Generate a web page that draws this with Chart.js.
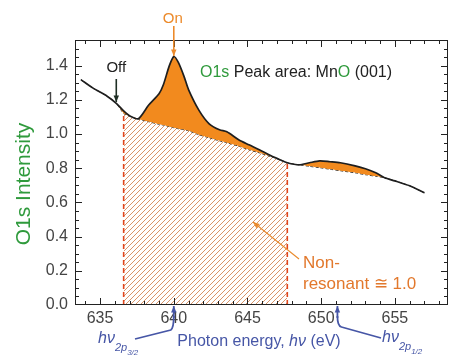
<!DOCTYPE html>
<html>
<head>
<meta charset="utf-8">
<script src="https://cdn.jsdelivr.net/npm/chart.js@4.4.1/dist/chart.umd.min.js"></script>
<style>
  html, body { margin: 0; padding: 0; background: #fff; }
  canvas { display: block; }
</style>
</head>
<body>
<canvas id="c" width="456" height="356"></canvas>
<script>
// photon energy (eV) sampled along the curve
const energy = [633.7, 634.5, 635.5, 636.1, 636.6, 637.0, 637.6, 638.3, 639.0, 639.3, 639.7, 640.0, 640.3, 640.7,
  641.0, 641.7, 642.4, 643.1, 643.6, 644.4, 645.1, 645.8, 646.6, 647.2, 647.7, 648.5, 649.2, 649.9,
  650.6, 651.3, 652.3, 653.0, 653.7, 654.3, 655.0, 656.0, 657.0];
// O1s peak area (total)
const total = [1.318, 1.27, 1.22, 1.18, 1.135, 1.107, 1.09, 1.17, 1.236, 1.29, 1.40, 1.453, 1.42, 1.336,
  1.26, 1.14, 1.06, 1.025, 1.013, 0.967, 0.937, 0.908, 0.873, 0.85, 0.832, 0.82, 0.832, 0.843,
  0.838, 0.832, 0.814, 0.797, 0.773, 0.744, 0.726, 0.697, 0.656];
// non-resonant background under the peak
const nonResonant = [1.318, 1.27, 1.22, 1.18, 1.12, 1.105, 1.088, 1.072, 1.057, 1.052, 1.043, 1.037, 1.031, 1.025,
  1.019, 0.996, 0.978, 0.96, 0.949, 0.929, 0.908, 0.89, 0.867, 0.85, 0.832, 0.82, 0.811, 0.803,
  0.794, 0.785, 0.773, 0.762, 0.753, 0.744, 0.726, 0.697, 0.656];
const edgeLow = 636.6, edgeHigh = 647.7;   // hatched (non-resonant) window
const xTicks = [635, 640, 645, 650, 655];
const yTicks = [0, 0.2, 0.4, 0.6, 0.8, 1.0, 1.2, 1.4];

const FONT = "'Liberation Sans', Arial, Helvetica, sans-serif";
const ORANGE = '#f28a1e';
const BLUE = '#4656a6';
const GREEN = '#2f9a3c';

const canvas = document.getElementById('c');
const ctx0 = canvas.getContext('2d');

function hatchPattern() {
    const c = document.createElement('canvas');
    c.width = 5; c.height = 5;
    const g = c.getContext('2d');
    g.fillStyle = '#fff'; g.fillRect(0, 0, 5, 5);
    g.strokeStyle = '#d99468'; g.lineWidth = 1;
    [[0, 5, 5, 0], [-1, 1, 1, -1], [4, 6, 6, 4]].forEach(s => {
        g.beginPath(); g.moveTo(s[0], s[1]); g.lineTo(s[2], s[3]); g.stroke();
    });
    return ctx0.createPattern(c, 'repeat');
}

const pts = arr => energy.map((e, i) => ({ x: e, y: arr[i] }));
const hatchPts = energy.map((e, i) => ({ x: e, y: nonResonant[i] })).filter(p => p.x >= edgeLow && p.x <= edgeHigh);
const yAt = e => nonResonant[energy.indexOf(e)];

function arrow(ctx, x1, y1, x2, y2, color, w, head) {
    ctx.strokeStyle = color; ctx.fillStyle = color; ctx.lineWidth = w;
    ctx.beginPath(); ctx.moveTo(x1, y1); ctx.lineTo(x2, y2); ctx.stroke();
    const a = Math.atan2(y2 - y1, x2 - x1);
    ctx.beginPath();
    ctx.moveTo(x2, y2);
    ctx.lineTo(x2 - head * Math.cos(a - 0.4), y2 - head * Math.sin(a - 0.4));
    ctx.lineTo(x2 - head * Math.cos(a + 0.4), y2 - head * Math.sin(a + 0.4));
    ctx.closePath(); ctx.fill();
}

function pieces(ctx, x, y, parts) {
    parts.forEach(p => {
        ctx.font = p.font; ctx.fillStyle = p.color;
        ctx.fillText(p.t, x, y + (p.dy || 0));
        x += ctx.measureText(p.t).width;
    });
}

const annotate = {
    id: 'annotate',
    afterDraw(chart) {
        const { ctx, chartArea: a, scales: { x, y } } = chart;
        ctx.save();
        // frame + inward ticks
        ctx.strokeStyle = '#222'; ctx.lineWidth = 1;
        ctx.strokeRect(a.left + 0.5, a.top + 0.5, a.right - a.left - 1, a.bottom - a.top - 1);
        ctx.beginPath();
        for (let v = 634; v <= 658; v++) {
            const px = Math.round(x.getPixelForValue(v)) + 0.5;
            const len = v % 5 === 0 ? 7 : 4;
            ctx.moveTo(px, a.bottom); ctx.lineTo(px, a.bottom - len);
            ctx.moveTo(px, a.top); ctx.lineTo(px, a.top + len);
        }
        for (let i = 1; i <= 30; i++) {
            const py = Math.round(y.getPixelForValue(i * 0.05)) + 0.5;
            const len = i % 4 === 0 ? 7 : 4;
            ctx.moveTo(a.left, py); ctx.lineTo(a.left + len, py);
            ctx.moveTo(a.right, py); ctx.lineTo(a.right - len, py);
        }
        ctx.stroke();

        ctx.textBaseline = 'alphabetic';
        // On / Off
        const xOn = x.getPixelForValue(640.0), xOff = x.getPixelForValue(636.1);
        ctx.font = '15px ' + FONT; ctx.fillStyle = '#ec8a2a'; ctx.textAlign = 'center';
        ctx.fillText('On', xOn - 1, 23);
        arrow(ctx, xOn, 26, xOn, 56, '#ec8a2a', 1.6, 7);
        ctx.fillStyle = '#222';
        ctx.fillText('Off', xOff, 72);
        arrow(ctx, xOff, 79, xOff, 102, '#1e2e24', 1.6, 7);

        // header
        ctx.textAlign = 'left';
        const f16 = '16px ' + FONT;
        pieces(ctx, 200, 77, [
            { t: 'O1', font: f16, color: GREEN }, { t: 's', font: f16, color: GREEN },
            { t: ' Peak area: Mn', font: f16, color: '#222' },
            { t: 'O', font: f16, color: GREEN }, { t: ' (001)', font: f16, color: '#222' }
        ]);

        // y title
        ctx.save();
        ctx.translate(30, 184); ctx.rotate(-Math.PI / 2);
        ctx.textAlign = 'center'; ctx.font = '21px ' + FONT; ctx.fillStyle = GREEN;
        ctx.fillText('O1s Intensity', 0, 0);
        ctx.restore();

        // x title
        const fi = 'italic 16px ' + FONT;
        ctx.font = f16;
        const w1 = ctx.measureText('Photon energy, ').width, w3 = ctx.measureText(' (eV)').width;
        ctx.font = fi; const w2 = ctx.measureText('hν').width;
        pieces(ctx, 259 - (w1 + w2 + w3) / 2, 346, [
            { t: 'Photon energy, ', font: f16, color: BLUE },
            { t: 'hν', font: fi, color: BLUE }, { t: ' (eV)', font: f16, color: BLUE }
        ]);

        // hν 2p3/2 and 2p1/2 markers
        const x32 = x.getPixelForValue(640.0), x12 = x.getPixelForValue(651.1);
        ctx.strokeStyle = BLUE; ctx.lineWidth = 1.8;
        ctx.beginPath(); ctx.moveTo(135, 339); ctx.lineTo(x32 - 3, 330); ctx.quadraticCurveTo(x32, 328, x32, 316); ctx.stroke();
        arrow(ctx, x32, 318, x32, a.bottom + 1, BLUE, 1.8, 7);
        ctx.beginPath(); ctx.moveTo(381, 338); ctx.lineTo(x12 + 4, 327); ctx.quadraticCurveTo(x12, 326, x12, 316); ctx.stroke();
        arrow(ctx, x12, 318, x12, a.bottom + 1, BLUE, 1.8, 7);
        const fs1 = 'italic 11px ' + FONT, fs2 = 'italic 8px ' + FONT;
        pieces(ctx, 98, 343, [
            { t: 'hν', font: fi, color: BLUE }, { t: '2p', font: fs1, color: BLUE, dy: 8 },
            { t: '3/2', font: fs2, color: BLUE, dy: 12 }
        ]);
        pieces(ctx, 382, 342, [
            { t: 'hν', font: fi, color: BLUE }, { t: '2p', font: fs1, color: BLUE, dy: 8 },
            { t: '1/2', font: fs2, color: BLUE, dy: 12 }
        ]);

        // non-resonant label
        ctx.font = '17px ' + FONT; ctx.fillStyle = '#e2782c';
        ctx.fillText('Non-', 303, 268);
        ctx.fillText('resonant ≅ 1.0', 303, 289);
        arrow(ctx, 299, 259, 253, 222, '#e98a2c', 1.1, 7);
        ctx.restore();
    }
};

new Chart(canvas, {
    type: 'line',
    data: {
        datasets: [
            {
                data: pts(total), borderColor: '#1e1e1e', borderWidth: 1.7, pointRadius: 0, tension: 0.25,
                fill: { target: 1, above: ORANGE, below: 'rgba(0,0,0,0)' }, order: 0
            },
            {
                data: pts(nonResonant), borderColor: '#333', borderWidth: 1, borderDash: [3, 2], pointRadius: 0,
                tension: 0.25, fill: false, order: 1
            },
            {
                data: hatchPts, borderWidth: 0, pointRadius: 0, tension: 0.25,
                fill: 'origin', backgroundColor: hatchPattern(), order: 2
            },
            {
                data: [{ x: edgeLow, y: 0 }, { x: edgeLow, y: yAt(edgeLow) }], borderColor: '#e0451c',
                borderWidth: 1.6, borderDash: [5, 3], pointRadius: 0, fill: false, order: 1
            },
            {
                data: [{ x: edgeHigh, y: 0 }, { x: edgeHigh, y: yAt(edgeHigh) }], borderColor: '#e0451c',
                borderWidth: 1.6, borderDash: [5, 3], pointRadius: 0, fill: false, order: 1
            }
        ]
    },
    options: {
        responsive: false, animation: false, devicePixelRatio: 1,
        layout: { padding: { left: 0, top: 40, right: 8, bottom: 0 } },
        plugins: { legend: { display: false }, tooltip: { enabled: false } },
        scales: {
            x: {
                type: 'linear', min: 633.3, max: 658.6,
                grid: { display: false, drawTicks: false }, border: { display: false },
                afterBuildTicks: s => { s.ticks = xTicks.map(v => ({ value: v })); },
                afterFit: s => { s.height = 51; },
                ticks: { color: '#444', padding: 4, maxRotation: 0, font: { size: 16, family: FONT }, callback: v => String(v) }
            },
            y: {
                min: 0, max: 1.55,
                grid: { display: false, drawTicks: false }, border: { display: false },
                afterBuildTicks: s => { s.ticks = yTicks.map(v => ({ value: v })); },
                afterFit: s => { s.width = 75; },
                ticks: { color: '#444', padding: 7, font: { size: 16, family: FONT }, callback: v => v.toFixed(1) }
            }
        }
    },
    plugins: [annotate]
});
</script>
</body>
</html>
